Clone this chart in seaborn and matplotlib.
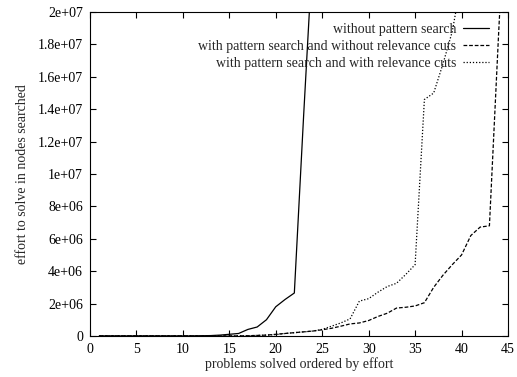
import numpy as np
import pandas as pd
import matplotlib
matplotlib.use("Agg")
import matplotlib.pyplot as plt
import seaborn as sns

# ============================
# DATA
# ============================
x_solid = list(range(1, 25))
y_solid = [0, 0, 0, 0, 0, 0, 0, 0, 0, 0, 0, 0.01e6,
           0.02e6, 0.05e6, 0.1e6, 0.15e6, 0.4e6, 0.55e6, 1.0e6, 1.8e6,
           2.25e6, 2.65e6, 13.6e6, 24e6]

x_dashed = list(range(1, 46))
y_dashed = [0, 0, 0, 0, 0, 0, 0, 0, 0, 0, 0, 0, 0, 0, 0, 0, 0.01e6,
            0.03e6, 0.05e6, 0.1e6, 0.15e6, 0.2e6, 0.25e6, 0.3e6, 0.38e6,
            0.47e6, 0.6e6, 0.74e6, 0.8e6, 0.95e6, 1.2e6, 1.4e6, 1.72e6,
            1.77e6, 1.85e6, 2.05e6, 3.0e6, 3.75e6, 4.4e6, 5.0e6, 6.2e6,
            6.72e6, 6.8e6, 18.8e6, 30e6]

x_dotted = list(range(1, 41))
y_dotted = [0, 0, 0, 0, 0, 0, 0, 0, 0, 0, 0, 0, 0, 0, 0, 0, 0.01e6,
            0.03e6, 0.05e6, 0.08e6, 0.15e6, 0.2e6, 0.25e6, 0.3e6, 0.4e6,
            0.6e6, 0.8e6, 1.05e6, 2.15e6, 2.3e6, 2.7e6, 3.05e6, 3.25e6,
            3.8e6, 4.4e6, 14.6e6, 15.0e6, 16.8e6, 18.8e6, 22e6]

labels = ["without pattern search",
          "with pattern search and without relevance cuts",
          "with pattern search and with relevance cuts"]

x_ticks = list(range(0, 46, 5))
y_ticks = [0, 2e6, 4e6, 6e6, 8e6, 1e7, 1.2e7, 1.4e7, 1.6e7, 1.8e7, 2e7]
y_tick_labels = ["0", "2e+06", "4e+06", "6e+06", "8e+06", "1e+07",
                 "1.2e+07", "1.4e+07", "1.6e+07", "1.8e+07", "2e+07"]

df = pd.concat([
    pd.DataFrame({"problem": x_solid, "effort": y_solid, "run": labels[0]}),
    pd.DataFrame({"problem": x_dashed, "effort": y_dashed, "run": labels[1]}),
    pd.DataFrame({"problem": x_dotted, "effort": y_dotted, "run": labels[2]}),
])

# ============================
# STYLE
# ============================
sns.set_style("ticks")
plt.rcParams["font.family"] = ["Liberation Serif", "DejaVu Serif"]
plt.rcParams["font.size"] = 10

fig = plt.figure(figsize=(5.17, 3.77), dpi=100)
ax = fig.add_axes([0.174, 0.109, 0.8086, 0.859])

sns.lineplot(data=df, x="problem", y="effort", hue="run", style="run",
             hue_order=labels, style_order=labels,
             palette=["black", "black", "black"],
             dashes=[(), (3, 1.5), (1, 1.5)],
             linewidth=0.9, ax=ax, sort=False)

ax.set_xlim(0, 45)
ax.set_ylim(0, 2e7)
ax.set_xticks(x_ticks)
ax.set_yticks(y_ticks)
ax.set_yticklabels(y_tick_labels)
ax.tick_params(direction="in", top=True, right=True, length=4, width=0.8,
               labelsize=10, colors="black", pad=5)
for s in ax.spines.values():
    s.set_visible(True)
    s.set_linewidth(0.8)
    s.set_color("black")

ax.set_xlabel("problems solved ordered by effort", fontsize=10, labelpad=1)
ax.set_ylabel("effort to solve in nodes searched", fontsize=10, labelpad=6)

ax.legend(loc="upper right", bbox_to_anchor=(0.969, 0.983), frameon=False,
          markerfirst=False, handlelength=1.9, handletextpad=0.5,
          labelspacing=0.28, fontsize=10, borderaxespad=0)

fig.savefig("out.png", dpi=100)
